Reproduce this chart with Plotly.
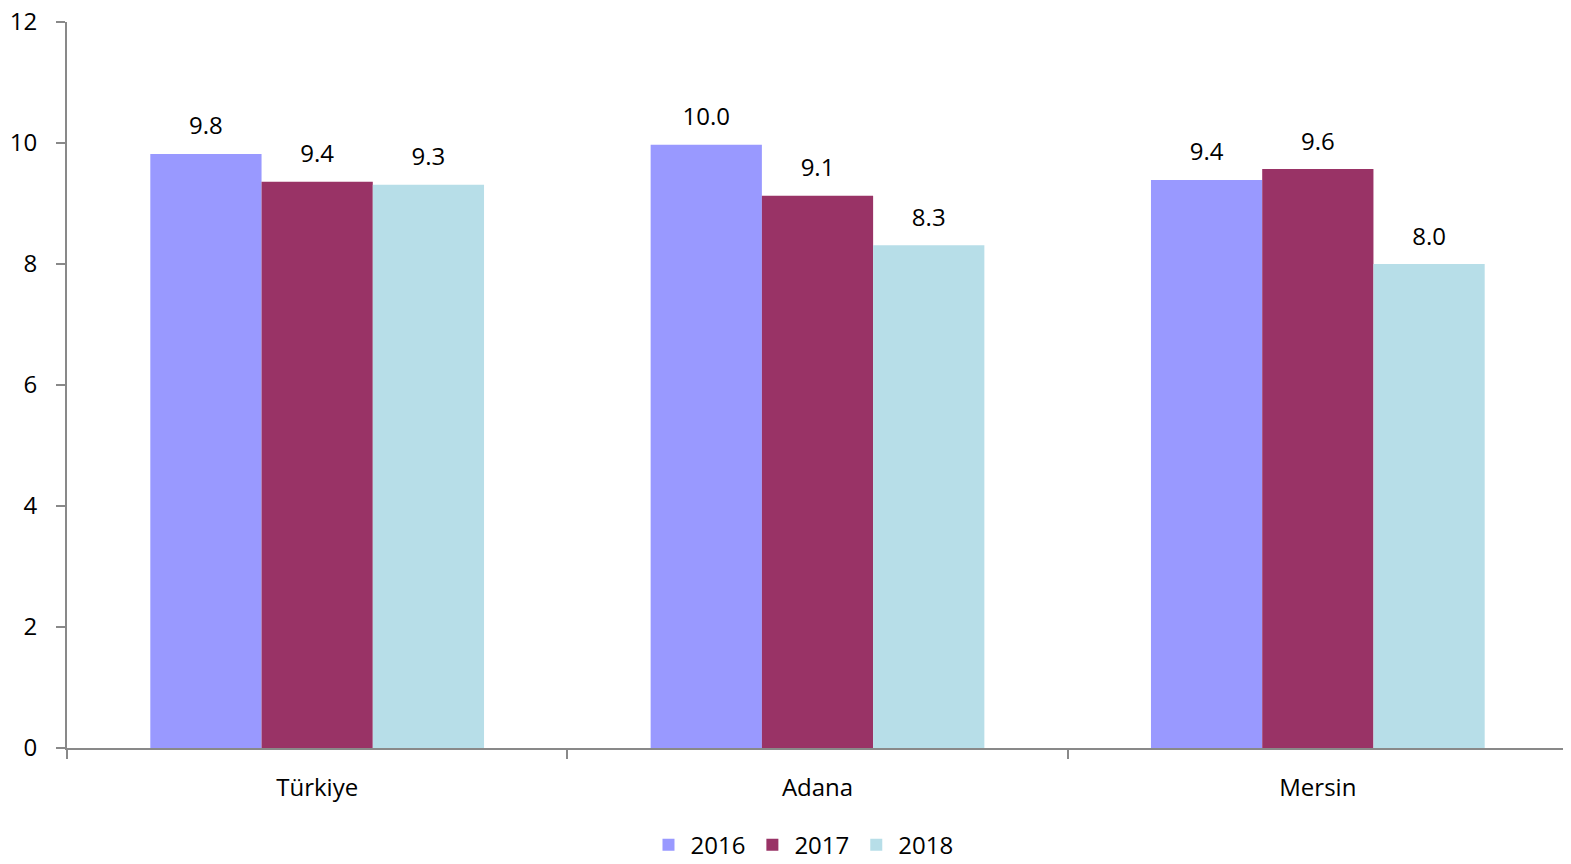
import plotly.graph_objects as go

categories = ["Türkiye", "Adana", "Mersin"]
years = ["2016", "2017", "2018"]
values_2016 = [9.82, 9.97, 9.39]
values_2017 = [9.36, 9.13, 9.57]
values_2018 = [9.31, 8.31, 8.0]
colors = ["#9999FF", "#993366", "#B7DEE8"]
y_ticks = [0, 2, 4, 6, 8, 10, 12]

FONT = "Open Sans"
FS = 24
fig = go.Figure()
series = [values_2016, values_2017, values_2018]
for name, vals, col in zip(years, series, colors):
    fig.add_trace(go.Bar(
        name=name, x=categories, y=vals, marker=dict(color=col, line=dict(width=0)),
        offsetgroup=name,
    ))
for name, vals in zip(years, series):
    fig.add_trace(go.Scatter(
        x=categories, y=vals, mode="markers+text", offsetgroup=name,
        marker=dict(size=20, color="rgba(0,0,0,0)"),
        text=[f"{v:.1f}" for v in vals], textposition="top center",
        textfont=dict(family=FONT, size=FS, color="#000000"),
        showlegend=False, hoverinfo="skip", cliponaxis=False,
    ))

fig.update_layout(
    width=1571, height=864,
    margin=dict(l=59, r=11, t=14, b=124),
    paper_bgcolor="white", plot_bgcolor="white",
    barmode="group", bargap=0.333, bargroupgap=0,
    scattermode="group", scattergap=0.333,
    font=dict(family=FONT, size=FS, color="#000000"),
    showlegend=True,
    legend=dict(orientation="h", x=0.49, xanchor="center", xref="paper",
                yref="container", y=0.031, yanchor="middle",
                font=dict(family=FONT, size=FS), traceorder="normal", itemwidth=34),
)
fig.update_xaxes(
    automargin=False,
    showline=True, linecolor="#898989", linewidth=2,
    ticks="outside", tickson="boundaries", ticklen=9, tickcolor="#898989", tickwidth=2,
    showgrid=False, tickfont=dict(family=FONT, size=FS), ticklabelstandoff=17,
    ticklabeloverflow="allow",
)
fig.update_yaxes(
    automargin=False,
    range=[0, 12], tickvals=y_ticks, showline=True, linecolor="#898989", linewidth=2,
    ticks="outside", ticklen=9, tickcolor="#898989", tickwidth=2,
    showgrid=False, zeroline=False, tickfont=dict(family=FONT, size=FS), ticklabelstandoff=14,
    ticklabeloverflow="allow",
)
fig.write_html("out.html")
